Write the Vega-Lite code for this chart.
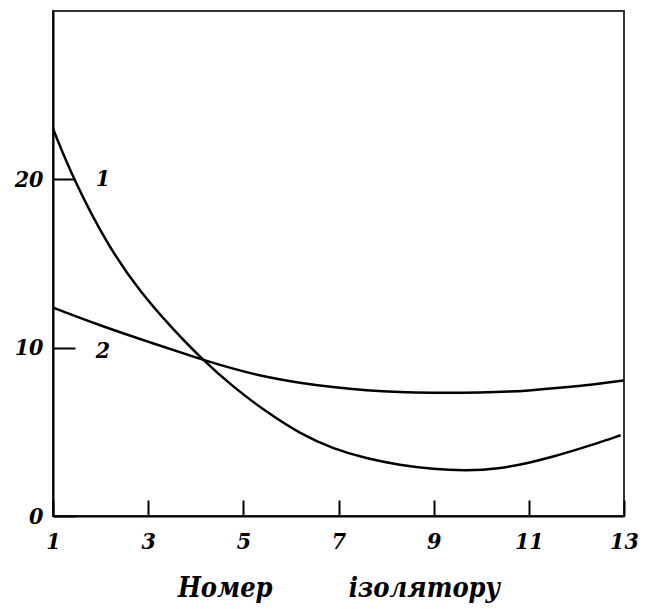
{
  "$schema": "https://vega.github.io/schema/vega-lite/v6.json",
  "width": 571,
  "height": 505,
  "autosize": {"type": "none"},
  "padding": {"left": 53, "top": 11, "right": 28, "bottom": 93},
  "background": "white",
  "config": {
    "view": {"stroke": "#333333", "strokeWidth": 2},
    "font": "DejaVu Serif Condensed"
  },
  "datasets": {
    "curves": [
      {"x": 1.0, "y": 23.0, "curve": "1"},
      {"x": 1.42, "y": 20.06, "curve": "1"},
      {"x": 2.13, "y": 16.15, "curve": "1"},
      {"x": 2.83, "y": 13.3, "curve": "1"},
      {"x": 3.52, "y": 11.1, "curve": "1"},
      {"x": 4.09, "y": 9.43, "curve": "1"},
      {"x": 4.79, "y": 7.65, "curve": "1"},
      {"x": 5.49, "y": 6.17, "curve": "1"},
      {"x": 6.19, "y": 4.89, "curve": "1"},
      {"x": 6.88, "y": 4.0, "curve": "1"},
      {"x": 7.59, "y": 3.41, "curve": "1"},
      {"x": 8.29, "y": 3.02, "curve": "1"},
      {"x": 8.98, "y": 2.78, "curve": "1"},
      {"x": 9.7, "y": 2.69, "curve": "1"},
      {"x": 10.35, "y": 2.8, "curve": "1"},
      {"x": 11.02, "y": 3.16, "curve": "1"},
      {"x": 11.55, "y": 3.55, "curve": "1"},
      {"x": 12.07, "y": 4.0, "curve": "1"},
      {"x": 12.5, "y": 4.38, "curve": "1"},
      {"x": 12.93, "y": 4.8, "curve": "1"},
      {"x": 1.0, "y": 12.38, "curve": "2"},
      {"x": 2.0, "y": 11.3, "curve": "2"},
      {"x": 3.04, "y": 10.31, "curve": "2"},
      {"x": 4.09, "y": 9.33, "curve": "2"},
      {"x": 4.79, "y": 8.74, "curve": "2"},
      {"x": 5.49, "y": 8.24, "curve": "2"},
      {"x": 6.19, "y": 7.91, "curve": "2"},
      {"x": 6.88, "y": 7.65, "curve": "2"},
      {"x": 7.59, "y": 7.46, "curve": "2"},
      {"x": 8.29, "y": 7.36, "curve": "2"},
      {"x": 8.98, "y": 7.32, "curve": "2"},
      {"x": 9.6, "y": 7.31, "curve": "2"},
      {"x": 10.3, "y": 7.35, "curve": "2"},
      {"x": 11.0, "y": 7.45, "curve": "2"},
      {"x": 11.7, "y": 7.62, "curve": "2"},
      {"x": 12.4, "y": 7.83, "curve": "2"},
      {"x": 13.0, "y": 8.05, "curve": "2"}
    ],
    "labels": [
      {"x": 2.05, "y": 20.0, "label": "1"},
      {"x": 2.05, "y": 9.8, "label": "2"}
    ]
  },
  "layer": [
    {
      "data": {"name": "curves"},
      "mark": {"type": "line", "interpolate": "basis", "color": "black", "strokeWidth": 2.5},
      "encoding": {
        "x": {
          "field": "x", "type": "quantitative",
          "scale": {"domain": [1, 13], "nice": false, "zero": false},
          "axis": {
            "values": [1, 3, 5, 7, 9, 11, 13],
            "grid": false,
            "tickSize": -16, "tickColor": "black", "tickWidth": 2,
            "domainColor": "black", "domainWidth": 2,
            "labelFont": "DejaVu Serif Condensed", "labelFontStyle": "italic", "labelFontWeight": "bold",
            "labelFontSize": 23, "labelColor": "black", "labelPadding": 30,
            "labelFlush": false,
            "title": "Номер\u00a0\u00a0\u00a0\u00a0\u00a0\u00a0\u00a0\u00a0\u00a0ізолятору",
            "titleFont": "DejaVu Serif Condensed", "titleFontStyle": "italic", "titleFontWeight": "bold",
            "titleFontSize": 27, "titleColor": "black", "titlePadding": 22
          }
        },
        "y": {
          "field": "y", "type": "quantitative",
          "scale": {"domain": [0, 30], "nice": false},
          "axis": {
            "values": [0, 10, 20],
            "grid": false,
            "tickSize": -22, "tickColor": "black", "tickWidth": 2,
            "domainColor": "black", "domainWidth": 2,
            "labelFont": "DejaVu Serif Condensed", "labelFontStyle": "italic", "labelFontWeight": "bold",
            "labelFontSize": 23, "labelColor": "black", "labelPadding": 32,
            "labelFlush": false,
            "title": null
          }
        },
        "detail": {"field": "curve"}
      }
    },
    {
      "data": {"name": "labels"},
      "mark": {"type": "text", "font": "DejaVu Serif Condensed", "fontStyle": "italic", "fontWeight": "bold", "fontSize": 23, "color": "black"},
      "encoding": {
        "x": {"field": "x", "type": "quantitative"},
        "y": {"field": "y", "type": "quantitative"},
        "text": {"field": "label"}
      }
    }
  ]
}
